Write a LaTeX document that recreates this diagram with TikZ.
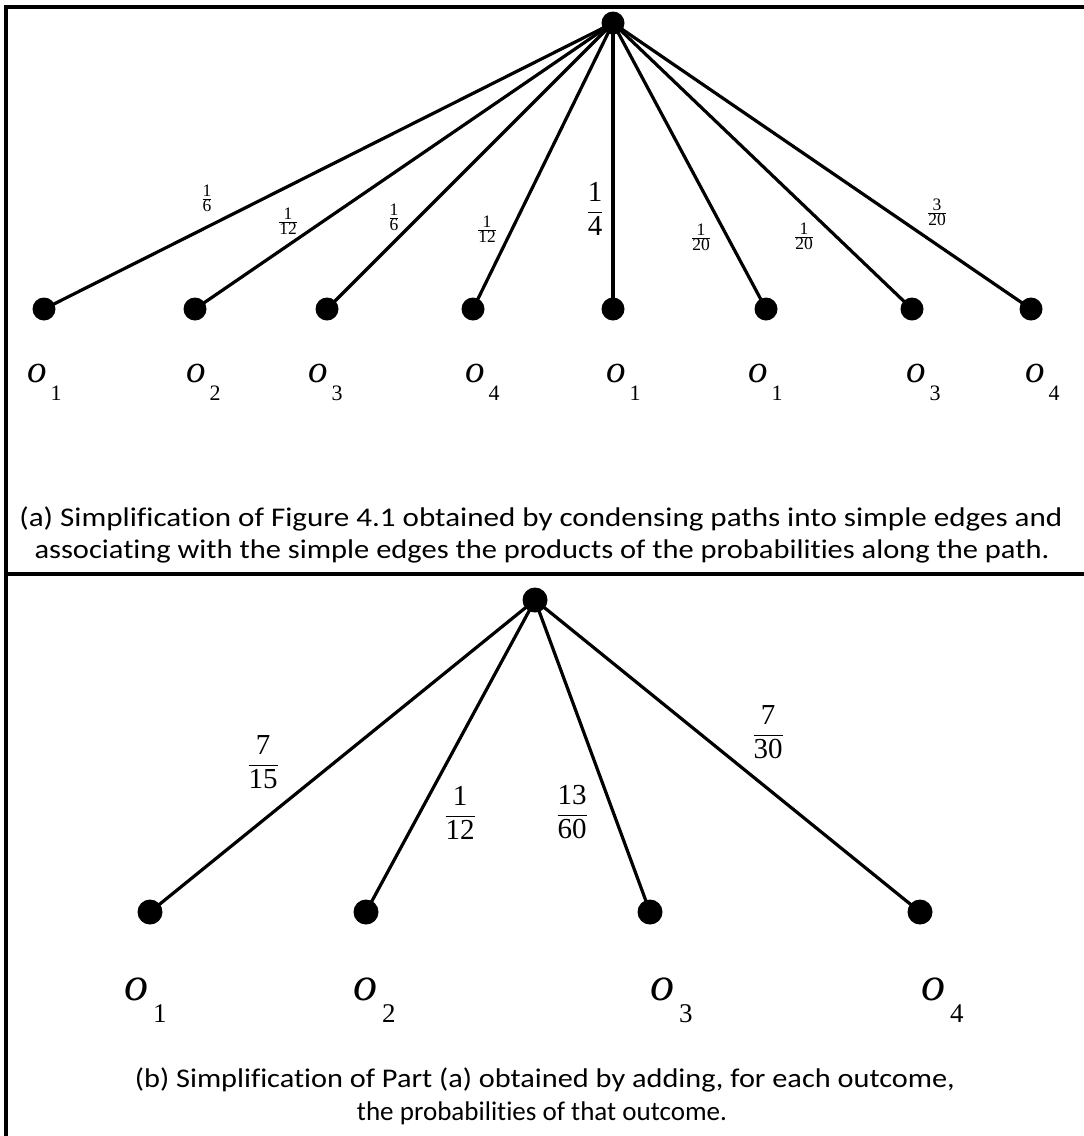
\documentclass[tikz,border=0pt]{standalone}
\usepackage{fontspec}
\usepackage{graphicx}
\setmainfont{Liberation Serif}
\newfontfamily\capfont[Ligatures=NoCommon]{Carlito}
\newcommand\frs[2]{$\frac{\mbox{#1}}{\mbox{#2}}$}
\newcommand\frd[2]{$\displaystyle\frac{\mbox{#1}}{\mbox{#2}}$}
\newcommand\olab[1]{{\fontsize{39}{39}\selectfont\itshape o}\hspace{4pt}\raisebox{-18pt}{\fontsize{22}{22}\selectfont #1}}
\newcommand\olabb[1]{{\fontsize{48}{48}\selectfont\itshape o}\hspace{5pt}\raisebox{-22pt}{\fontsize{27}{27}\selectfont #1}}
\newcommand\fitw[2]{\resizebox{#1}{\height}{#2}}
\begin{document}
\begin{tikzpicture}[x=1pt,y=-1pt,
  dot/.style={circle,fill=black,inner sep=0pt,minimum size=23pt},
  bdot/.style={circle,fill=black,inner sep=0pt,minimum size=25pt},
  edge/.style={line width=3.2pt},
  framel/.style={line width=3.4pt},
  smallfr/.style={inner sep=0pt,font=\fontsize{17.5}{17.5}\selectfont},
  bigfr/.style={inner sep=0pt,font=\fontsize{29}{29}\selectfont},
  olabel/.style={inner sep=0pt,anchor=base west},
  captext/.style={inner sep=0pt,font=\capfont\fontsize{27}{27}\selectfont}]
\useasboundingbox (0,0) rectangle (1084,1136);
\fill[white] (0,0) rectangle (1084,1136);
% frame
\draw[framel] (6,1136) -- (6,7) -- (1084,7);
\draw[framel] (6,574) -- (1084,574);
% ---------- part (a) ----------
\node[dot] (r) at (613,23) {};
\foreach \n/\x in {a1/44, a2/195, a3/327, a4/473, a5/613, a6/766, a7/912, a8/1031}
  \node[dot] (\n) at (\x,309) {};
\foreach \n in {a1,a2,a3,a4,a5,a6,a7,a8}
  \draw[edge] (r.center) -- (\n.center);
\node[smallfr] (f1) at (207,198) {\frs{1}{6}};
\node[smallfr] (f2) at (288,221) {\frs{1}{12}};
\node[smallfr] (f3) at (394,217) {\frs{1}{6}};
\node[smallfr] (f4) at (487,229) {\frs{1}{12}};
\node[bigfr]   (f5) at (595,209) {\frd{1}{4}};
\node[smallfr] (f6) at (701,237) {\frs{1}{20}};
\node[smallfr] (f7) at (804,236) {\frs{1}{20}};
\node[smallfr] (f8) at (937,212) {\frs{3}{20}};
\foreach \n/\x/\s in {o1/27/1, o2/186/2, o3/308/3, o4/465/4, o5/606/1, o6/748/1, o7/906/3, o8/1025/4}
  \node[olabel] (\n) at (\x,382) {\olab{\s}};
\node[captext] (capa1) at (541,519) {\fitw{1043pt}{(a) Simplification of Figure 4.1 obtained by condensing paths into simple edges and}};
\node[captext] (capa2) at (542,551) {\fitw{1015pt}{associating with the simple edges the products of the probabilities along the path.}};
% ---------- part (b) ----------
\node[bdot] (s) at (535,600) {};
\foreach \n/\x in {b1/150, b2/366, b3/650, b4/920}
  \node[bdot] (\n) at (\x,912) {};
\foreach \n in {b1,b2,b3,b4}
  \draw[edge] (s.center) -- (\n.center);
\node[bigfr] (g1) at (263,762) {\frd{7}{15}};
\node[bigfr] (g2) at (460,813) {\frd{1}{12}};
\node[bigfr] (g3) at (572,812) {\frd{13}{60}};
\node[bigfr] (g4) at (768,732) {\frd{7}{30}};
\foreach \n/\x/\s in {p1/124/1, p2/353/2, p3/650/3, p4/921/4}
  \node[olabel] (\n) at (\x,1000) {\olabb{\s}};
\node[captext] (capb1) at (545,1080) {\fitw{820pt}{(b) Simplification of Part (a) obtained by adding, for each outcome,}};
\node[captext] (capb2) at (542,1113) {\fitw{370pt}{the probabilities of that outcome.}};
\end{tikzpicture}
\end{document}
